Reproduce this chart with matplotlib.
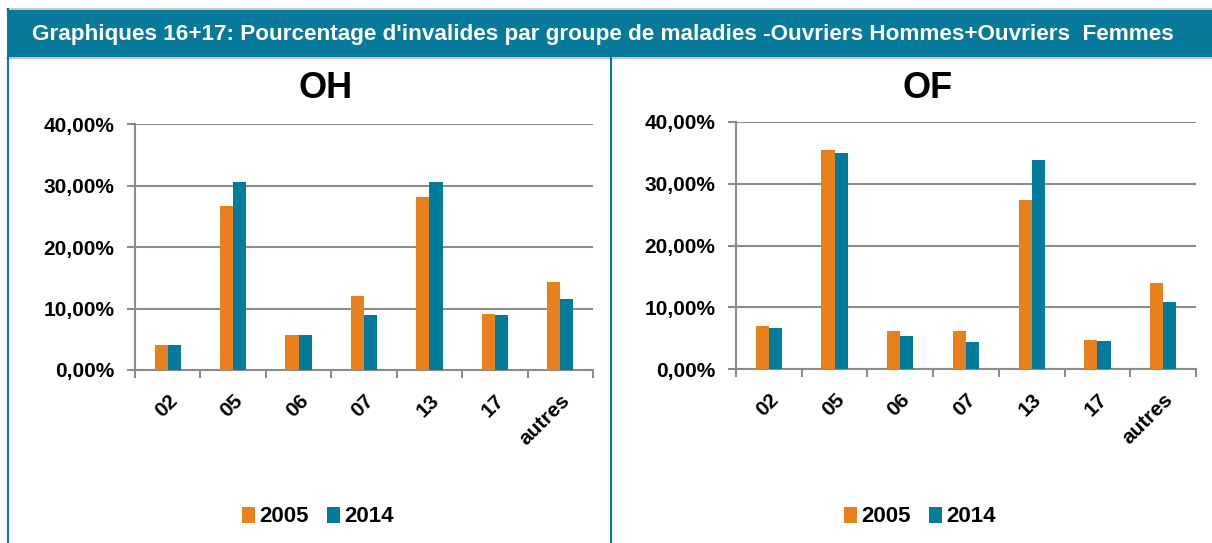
import numpy as np
import matplotlib.pyplot as plt
from matplotlib.patches import Rectangle
from matplotlib.lines import Line2D
from matplotlib.ticker import FuncFormatter

plt.rcParams['font.family'] = ['Liberation Sans', 'DejaVu Sans']

categories = ['02', '05', '06', '07', '13', '17', 'autres']
oh_2005 = [4.1, 26.7, 5.7, 12.1, 28.2, 9.1, 14.3]
oh_2014 = [4.1, 30.5, 5.7, 8.9, 30.6, 8.9, 11.5]
of_2005 = [6.9, 35.5, 6.1, 6.1, 27.4, 4.7, 13.9]
of_2014 = [6.6, 35.0, 5.4, 4.4, 33.9, 4.6, 10.8]
series_names = ['2005', '2014']

header = "Graphiques 16+17: Pourcentage d'invalides par groupe de maladies -Ouvriers Hommes+Ouvriers  Femmes"

orange = '#E8801E'
teal = '#037B9A'
header_col = '#07799A'
grid_col = '#8C8C8C'

W, H = 1212, 543
fig = plt.figure(figsize=(W / 100, H / 100), dpi=100)


def px_axes(x0, y0, x1, y1):
    # pixel box (top-left origin) -> figure fraction
    return fig.add_axes([x0 / W, 1 - y1 / H, (x1 - x0) / W, (y1 - y0) / H])


# header band and frame lines
fig.patches.append(Rectangle((7 / W, 1 - 57 / H), 1, 47 / H, transform=fig.transFigure,
                             facecolor=header_col, edgecolor='none', zorder=0))
fig.lines.append(Line2D([7 / W, 1], [1 - 9 / H] * 2, transform=fig.transFigure, color='#BFBFBF', lw=1.2))
fig.lines.append(Line2D([7 / W, 1], [1 - 57.5 / H] * 2, transform=fig.transFigure, color='#BFBFBF', lw=1.2))
fig.lines.append(Line2D([8 / W] * 2, [0, 1 - 9 / H], transform=fig.transFigure, color=header_col, lw=1.5))
fig.lines.append(Line2D([611 / W] * 2, [0, 1 - 57 / H], transform=fig.transFigure, color=header_col, lw=1.5))
fig.text(603 / W, 1 - 34 / H, header, color='white', fontsize=16.2, fontweight='bold',
         ha='center', va='center')


def draw_panel(box, title, v2005, v2014, center_x):
    ax = px_axes(*box)
    x = np.arange(len(categories))
    w = 0.2
    ax.bar(x - w / 2, v2005, w, color=orange, label=series_names[0], zorder=3)
    ax.bar(x + w / 2, v2014, w, color=teal, label=series_names[1], zorder=3)
    ax.set_xlim(-0.5, len(categories) - 0.5)
    ax.set_ylim(0, 40)
    ax.set_yticks([0, 10, 20, 30, 40])
    ax.yaxis.set_major_formatter(FuncFormatter(lambda v, p: f'{v:.2f}%'.replace('.', ',')))
    ax.yaxis.grid(True, color=grid_col, lw=1.5, zorder=0)
    ax.set_xticks(x)
    ax.set_xticklabels(categories, rotation=45, ha='right', va='top', rotation_mode='anchor')
    ax.set_xticks(np.arange(-0.5, len(categories)), minor=True)
    ax.tick_params(axis='x', which='major', length=0, pad=15, labelsize=15)
    ax.tick_params(axis='x', which='minor', length=6, width=1.5, color=grid_col)
    ax.tick_params(axis='y', length=6, width=1.5, color=grid_col, labelsize=15, pad=9)
    for lab in ax.get_xticklabels() + ax.get_yticklabels():
        lab.set_fontweight('bold')
    for side in ['top', 'right']:
        ax.spines[side].set_visible(False)
    for side in ['left', 'bottom']:
        ax.spines[side].set_color(grid_col)
        ax.spines[side].set_linewidth(1.5)
    fig.text(center_x / W, 1 - 88 / H, title, fontsize=26, fontweight='bold',
             ha='center', va='center')
    fig.legend(handles=ax.patches[:1] + ax.patches[len(categories):len(categories) + 1],
               labels=series_names, loc='center', ncol=2,
               bbox_to_anchor=((center_x - 8) / W, 1 - 517 / H), frameon=False,
               prop={'weight': 'bold', 'size': 16}, handlelength=0.6, handleheight=0.7,
               handletextpad=0.2, columnspacing=0.8)
    return ax


draw_panel((135, 124, 593, 370), 'OH', oh_2005, oh_2014, 326)
draw_panel((736, 122, 1196, 369), 'OF', of_2005, of_2014, 928)

fig.savefig('out.png', dpi=100)
